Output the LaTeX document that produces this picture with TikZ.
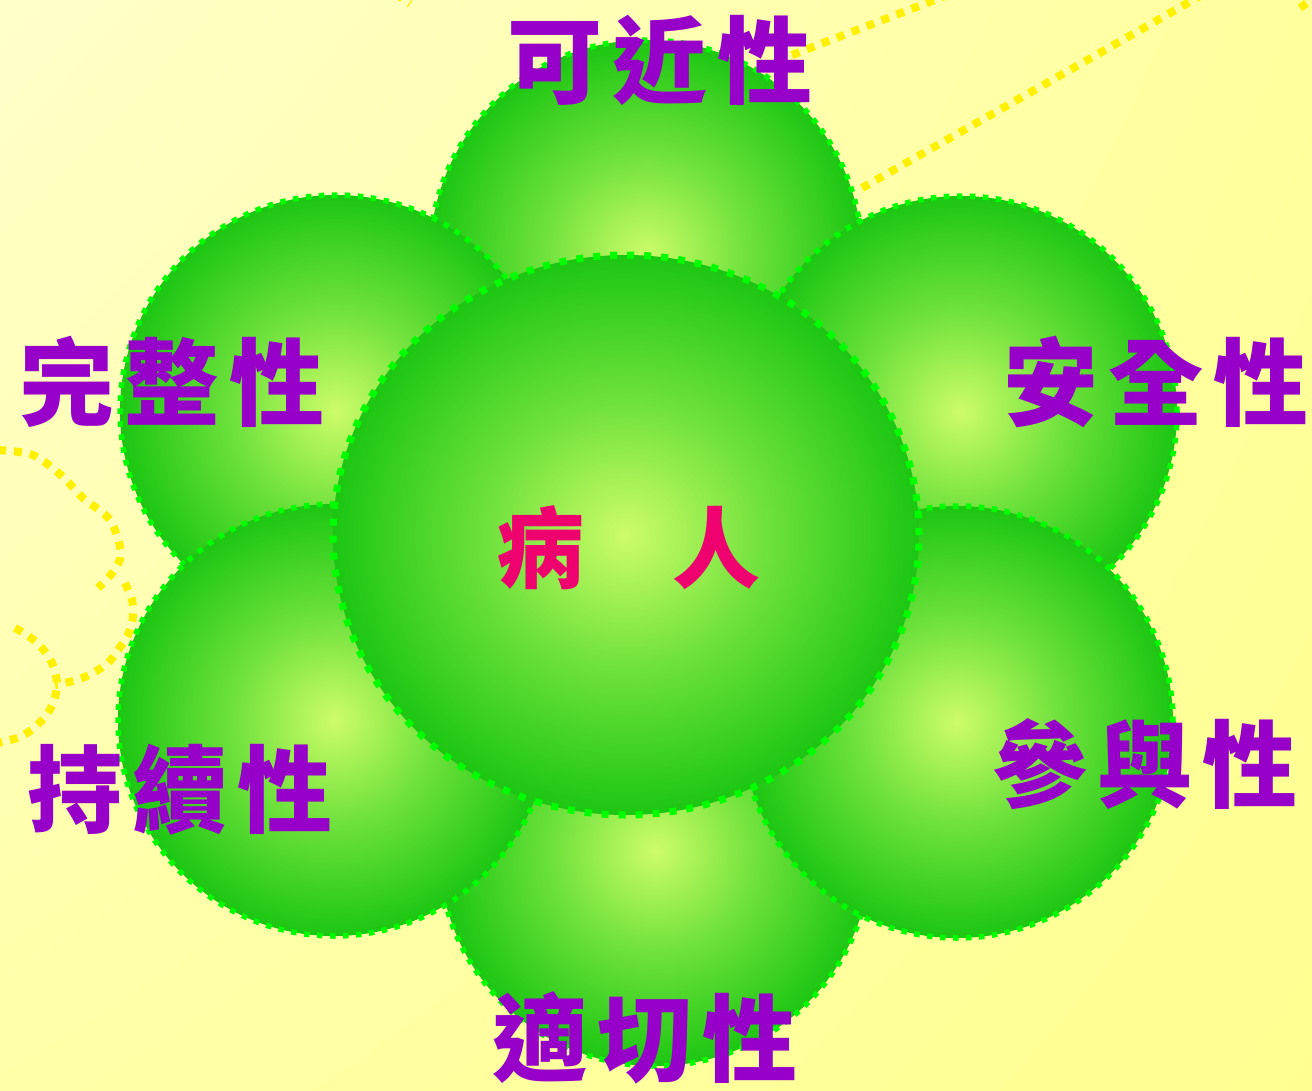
\documentclass[tikz,border=0pt]{standalone}
\usepackage{fontspec}
\usetikzlibrary{shapes.geometric,shadings}
\newfontfamily\cjk{Noto Sans CJK TC}[LetterSpace=11]
\newfontfamily\cjkc{Noto Sans CJK TC}
\definecolor{bgUL}{RGB}{255,255,202}
\definecolor{bgUR}{RGB}{255,255,158}
\definecolor{bgLL}{RGB}{255,255,168}
\definecolor{bgLR}{RGB}{255,255,145}
\definecolor{ballin}{RGB}{205,252,105}
\definecolor{ballmid}{RGB}{110,225,60}
\definecolor{ballout}{RGB}{28,198,18}
\definecolor{rimgreen}{RGB}{0,255,0}
\definecolor{dotyellow}{RGB}{255,240,0}
\definecolor{labelpurple}{RGB}{150,0,200}
\definecolor{centerpink}{RGB}{238,0,110}
\pgfdeclareradialshading{greenball}{\pgfpoint{0bp}{0bp}}{color(0bp)=(ballin); color(12bp)=(ballmid); color(25bp)=(ballout); color(50bp)=(ballout)}
\tikzset{
  petal/.style={circle, inner sep=0pt, minimum size=432pt, shade, shading=greenball,
    draw=rimgreen, line width=5.5pt, dash pattern=on 5.5pt off 7.5pt},
  heart/.style={ellipse, inner sep=0pt, minimum width=586pt, minimum height=560pt, shade, shading=greenball,
    draw=rimgreen, line width=7pt, dash pattern=on 7pt off 10pt},
  lab/.style={inner sep=0pt, text=labelpurple, font=\cjk\bfseries\fontsize{95}{95}\selectfont},
  centerlab/.style={inner sep=0pt, text=centerpink, font=\cjkc\bfseries\fontsize{88}{88}\selectfont},
  ydots/.style={draw=dotyellow, line width=8pt, dash pattern=on 8pt off 8pt}
}
\begin{document}
\begin{tikzpicture}[x=1pt,y=-1pt]
\useasboundingbox (0,0) rectangle (1312,1090);
\shade[upper left=bgUL, upper right=bgUR, lower left=bgLL, lower right=bgLR] (0,0) rectangle (1312,1090);
% yellow dotted decorations
\draw[ydots] (792,55) -- (945,-4);
\draw[ydots] (862,188) -- (1200,-4);
\draw[ydots] (396,-6) -- (410,4);
\draw[ydots] (1300,8) -- (1316,-4);
\draw[ydots] plot[smooth] coordinates {(-2,450) (33,455) (62,476) (83,498) (110,520) (121,553) (113,572) (98,588)};
\draw[ydots] plot[smooth] coordinates {(125,583) (132,600) (133,617) (128,635) (118,650) (108,663) (93,673) (77,680) (55,685)};
\draw[ydots] plot[smooth] coordinates {(15,628) (30,637) (42,648) (52,663) (57,682) (55,697) (48,713) (35,727) (20,737) (-2,743)};
% petals
\node[petal] (ptop) at (646,256) {};
\node[petal] (pbottom) at (655,850) {};
\node[petal] (pul) at (336,411) {};
\node[petal] (pur) at (961,412) {};
\node[petal] (pll) at (334,720) {};
\node[petal] (plr) at (957,722) {};
\node[heart] (pcenter) at (626,535) {};
% labels
\node[lab] (ltop) at (660,60) {可近性};
\node[lab] (lul) at (172,382) {完整性};
\node[lab] (lur) at (1156,382) {安全性};
\node[lab] (lll) at (180,790) {持續性};
\node[lab] (llr) at (1145,764) {參與性};
\node[lab] (lbottom) at (645,1038) {適切性};
\node[centerlab] (lcenter) at (628,548) {病　人};
\end{tikzpicture}
\end{document}
